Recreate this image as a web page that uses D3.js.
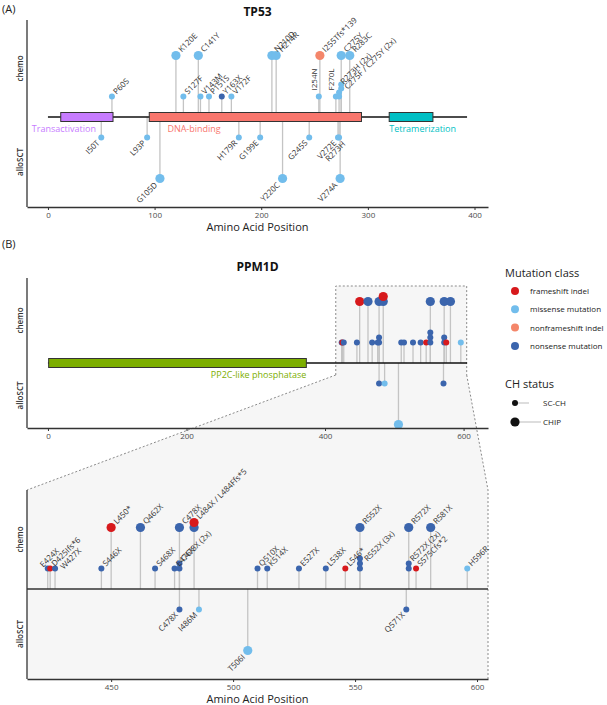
<!DOCTYPE html>
<html>
<head>
<meta charset="utf-8">
<script src="https://cdn.jsdelivr.net/npm/d3@7"></script>
<style>
  body { margin: 0; background: #fff; font-family: "Open Sans", sans-serif; }
</style>
</head>
<body>
<svg id="chart" width="607" height="705"></svg>
<script>
// ---- data ----
const classKeys = ['fs', 'mis', 'nfs', 'non'];
const classNames = ['frameshift indel', 'missense mutation', 'nonframeshift indel', 'nonsense mutation'];
const classColors = ['#d7191c', '#72bdec', '#f4866a', '#3b65ad'];
const chStatus = ['SC-CH', 'CHIP'];

const tp53Length = 393;
const tp53Domains = [
  { name: 'Transactivation', start: 12, end: 61, color: '#c77cff' },
  { name: 'DNA-binding', start: 95, end: 294, color: '#f8766d' },
  { name: 'Tetramerization', start: 320, end: 361, color: '#00bfc4' }
];
const tp53Ticks = [0, 100, 200, 300, 400];

// pos, label, CH status, classes stacked bottom-up, stack offset
const tp53Chemo = [
  { pos: 60, label: 'P60S', ch: 'SC-CH', cls: ['mis'] },
  { pos: 120, label: 'K120E', ch: 'CHIP', cls: ['mis'] },
  { pos: 127, label: 'S127F', ch: 'SC-CH', cls: ['mis'] },
  { pos: 141, label: 'C141Y', ch: 'CHIP', cls: ['mis'] },
  { pos: 143, label: 'V143M', ch: 'SC-CH', cls: ['mis'] },
  { pos: 151, label: 'P151S', ch: 'SC-CH', cls: ['mis'] },
  { pos: 163, label: 'Y163X', ch: 'SC-CH', cls: ['non'] },
  { pos: 172, label: 'V172F', ch: 'SC-CH', cls: ['mis'] },
  { pos: 210, label: 'N210D', ch: 'CHIP', cls: ['mis'] },
  { pos: 214, label: 'H214R', ch: 'CHIP', cls: ['mis'] },
  { pos: 254, label: 'I254N', ch: 'SC-CH', cls: ['mis'] },
  { pos: 255, label: 'I255Tfs*139', ch: 'CHIP', cls: ['nfs'] },
  { pos: 270, label: 'F270L', ch: 'SC-CH', cls: ['mis'] },
  { pos: 273, label: 'R273H (2x)', ch: 'SC-CH', cls: ['mis', 'mis'] },
  { pos: 275, label: 'C275F / C275Y (2x)', ch: 'SC-CH', cls: ['mis', 'mis'], base: 2 },
  { pos: 275, label: 'C275Y', ch: 'CHIP', cls: ['mis'] },
  { pos: 283, label: 'R283C', ch: 'CHIP', cls: ['mis'] }
];
const tp53Allo = [
  { pos: 50, label: 'I50T', ch: 'SC-CH', cls: ['mis'] },
  { pos: 93, label: 'L93P', ch: 'SC-CH', cls: ['mis'] },
  { pos: 105, label: 'G105D', ch: 'CHIP', cls: ['mis'] },
  { pos: 179, label: 'H179R', ch: 'SC-CH', cls: ['mis'] },
  { pos: 199, label: 'G199E', ch: 'SC-CH', cls: ['mis'] },
  { pos: 220, label: 'Y220C', ch: 'CHIP', cls: ['mis'] },
  { pos: 245, label: 'G245S', ch: 'SC-CH', cls: ['mis'] },
  { pos: 272, label: 'V272E', ch: 'SC-CH', cls: ['mis'] },
  { pos: 273, label: 'R273H', ch: 'SC-CH', cls: ['mis'] },
  { pos: 274, label: 'V274A', ch: 'CHIP', cls: ['mis'] }
];

const ppm1dLength = 605;
const ppm1dDomains = [
  { name: 'PP2C-like phosphatase', start: 1, end: 373, color: '#7cae00' }
];
const ppm1dTicks = [0, 200, 400, 600];
const zoomRange = [415.5, 604.5];
const zoomTicks = [450, 500, 550, 600];

const ppm1dChemo = [
  { pos: 424, label: 'E424X', ch: 'SC-CH', cls: ['non'] },
  { pos: 425, label: 'D425Ifs*6', ch: 'SC-CH', cls: ['fs'] },
  { pos: 427, label: 'W427X', ch: 'SC-CH', cls: ['non'] },
  { pos: 446, label: 'S446X', ch: 'SC-CH', cls: ['non'] },
  { pos: 450, label: 'L450*', ch: 'CHIP', cls: ['fs'] },
  { pos: 462, label: 'Q462X', ch: 'CHIP', cls: ['non'] },
  { pos: 468, label: 'S468X', ch: 'SC-CH', cls: ['non'] },
  { pos: 476, label: 'E476X', ch: 'SC-CH', cls: ['non'] },
  { pos: 478, label: 'C478X (2x)', ch: 'SC-CH', cls: ['non', 'non'] },
  { pos: 478, label: 'C478X', ch: 'CHIP', cls: ['non'] },
  { pos: 484, label: 'L484X / L484Ffs*5', ch: 'CHIP', cls: ['non', 'fs'] },
  { pos: 510, label: 'Q510X', ch: 'SC-CH', cls: ['non'] },
  { pos: 514, label: 'K514X', ch: 'SC-CH', cls: ['non'] },
  { pos: 527, label: 'E527X', ch: 'SC-CH', cls: ['non'] },
  { pos: 538, label: 'L538X', ch: 'SC-CH', cls: ['non'] },
  { pos: 546, label: 'L546*', ch: 'SC-CH', cls: ['fs'] },
  { pos: 552, label: 'R552X (3x)', ch: 'SC-CH', cls: ['non', 'non', 'non'] },
  { pos: 552, label: 'R552X', ch: 'CHIP', cls: ['non'] },
  { pos: 572, label: 'R572X (2x)', ch: 'SC-CH', cls: ['non', 'non'] },
  { pos: 572, label: 'R572X', ch: 'CHIP', cls: ['non'] },
  { pos: 575, label: 'S575Cfs*2', ch: 'SC-CH', cls: ['fs'] },
  { pos: 581, label: 'R581X', ch: 'CHIP', cls: ['non'] },
  { pos: 596, label: 'H596R', ch: 'SC-CH', cls: ['mis'] }
];
const ppm1dAllo = [
  { pos: 478, label: 'C478X', ch: 'SC-CH', cls: ['non'] },
  { pos: 486, label: 'I486M', ch: 'SC-CH', cls: ['mis'] },
  { pos: 506, label: 'T506I', ch: 'CHIP', cls: ['mis'] },
  { pos: 571, label: 'Q571X', ch: 'SC-CH', cls: ['non'] }
];

// ---- layout ----
const svg = d3.select('#chart');
const left = 27, right = 488;
const color = d3.scaleOrdinal().domain(classKeys).range(classColors);
const radius = d3.scaleOrdinal().domain(chStatus).range([3, 4.6]);
const chLevel = d3.scaleOrdinal().domain(chStatus).range([1, 3]);

// label tweaks where the reference labels were pushed apart
const labelNudge = {
  'chemo:E424X': [-9, 1], 'chemo:W427X': [4, 3], 'alloSCT:R273H': [8, 1],
  'chemo:R552X (3x)': [3, 5], 'chemo:C275F / C275Y (2x)': [2, 7], 'chemo:R273H (2x)': [0, -6]
};
const verticalLabels = ['I254N', 'F270L'];

function drawPanel(p) {
  const g = svg.append('g');
  const x = p.x;
  const y = d3.scaleLinear().domain([0, 1]).range([p.backbone, p.backbone - 20.5]);

  const stems = g.append('g'), prot = g.append('g'), dots = g.append('g'), labs = g.append('g');

  // axes
  g.append('line').attr('x1', left).attr('x2', left).attr('y1', p.top).attr('y2', p.bottom)
    .attr('stroke', '#333').attr('stroke-width', 1.3);
  const ax = g.append('g').attr('transform', `translate(0,${p.bottom})`)
    .call(d3.axisBottom(x).tickValues(p.ticks).tickSize(3).tickSizeOuter(0).tickPadding(2));
  ax.select('.domain').attr('stroke', '#333').attr('stroke-width', 1.3);
  ax.selectAll('.tick line').attr('stroke', '#333');
  ax.selectAll('.tick text').attr('fill', '#4d4d4d').style('font-size', '8px').style('font-family', 'Open Sans');

  // row labels
  [['chemo', (p.top + p.backbone) / 2], ['alloSCT', (p.backbone + p.bottom) / 2]].forEach(([t, cy]) => {
    g.append('text').attr('transform', `translate(23,${cy}) rotate(-90)`)
      .attr('text-anchor', 'middle').style('font-size', '8px').style('font-weight', 600)
      .attr('fill', '#333').text(t);
  });

  // protein backbone and domains
  if (p.length) {
    prot.append('line').attr('x1', x(0)).attr('x2', x(p.length)).attr('y1', p.backbone).attr('y2', p.backbone)
      .attr('stroke', '#111').attr('stroke-width', 1.5);
  } else {
    prot.append('line').attr('x1', left).attr('x2', right).attr('y1', p.backbone).attr('y2', p.backbone)
      .attr('stroke', '#333').attr('stroke-width', 1.5);
  }
  (p.domains || []).forEach(d => {
    prot.append('rect').attr('x', x(d.start)).attr('width', x(d.end) - x(d.start))
      .attr('y', p.backbone - 4.5).attr('height', 9)
      .attr('fill', d.color).attr('stroke', '#333').attr('stroke-width', 1);
    const lp = p.domainLabel[d.name];
    prot.append('text').attr('x', x(lp[0])).attr('y', p.backbone + 15)
      .attr('text-anchor', lp[1]).attr('fill', d.color).style('font-size', '9px').text(d.name);
  });

  // mutations
  [['chemo', p.chemo, 1], ['alloSCT', p.allo, -1]].forEach(([side, muts, sign]) => {
    muts.forEach(m => {
      const r = radius(m.ch);
      const pts = m.cls.map((c, i) => ({ c, y: y(sign * (chLevel(m.ch) + ((m.base || 0) + i) * p.step)) }));
      const px = x(m.pos);
      const topY = pts[pts.length - 1].y;
      stems.append('line').attr('x1', px).attr('x2', px).attr('y1', p.backbone).attr('y2', topY)
        .attr('stroke', '#c4c4c4').attr('stroke-width', 1.3);
      pts.forEach(q => {
        dots.append('circle').attr('cx', px).attr('cy', q.y).attr('r', r).attr('fill', color(q.c));
      });
      if (!p.labels) return;
      const nudge = labelNudge[side + ':' + m.label] || [0, 0];
      const t = labs.append('text').style('font-size', '8px').attr('fill', '#333').text(m.label);
      if (verticalLabels.includes(m.label)) {
        t.attr('text-anchor', 'start')
          .attr('transform', `translate(${px - 2 + nudge[0]},${topY - r - 3 + nudge[1]}) rotate(-90)`);
      } else if (sign > 0) {
        const d = r + 1.5, c = 2;
        const sx = px + 0.707 * (d + c), sy = topY + 0.707 * (c - d);
        t.attr('text-anchor', 'start')
          .attr('transform', `translate(${sx + nudge[0]},${sy + nudge[1]}) rotate(-45)`);
      } else {
        const d = r + 2, c = 3.5;
        const ex = px + 0.707 * (c - d), ey = topY + 0.707 * (c + d);
        t.attr('text-anchor', 'end')
          .attr('transform', `translate(${ex + nudge[0]},${ey + nudge[1]}) rotate(-45)`);
      }
    });
  });

  if (p.axisTitle) {
    g.append('text').attr('x', (left + right) / 2).attr('y', p.bottom + 24).attr('text-anchor', 'middle')
      .attr('fill', '#222').style('font-size', '11px').text('Amino Acid Position');
  }
  if (p.title) {
    g.append('text').attr('x', (left + right) / 2).attr('y', p.titleY).attr('text-anchor', 'middle')
      .attr('fill', '#111').style('font-size', '12px').style('font-weight', 700).text(p.title);
  }
  return g;
}

// ---- panel A ----
svg.append('text').attr('x', 2).attr('y', 13).style('font-size', '11px').attr('fill', '#222').text('(A)');
const xTp53 = d3.scaleLinear().domain([-tp53Length * 0.05, tp53Length * 1.05]).range([left, right]);
drawPanel({
  x: xTp53, top: 20, bottom: 207, backbone: 117, step: 0.195, ticks: tp53Ticks,
  length: tp53Length, domains: tp53Domains, chemo: tp53Chemo, allo: tp53Allo, labels: true,
  domainLabel: { 'Transactivation': [15, 'middle'], 'DNA-binding': [112, 'start'], 'Tetramerization': [320, 'start'] },
  axisTitle: true, title: 'TP53', titleY: 16
});

// ---- panel B ----
svg.append('text').attr('x', 2).attr('y', 248).style('font-size', '11px').attr('fill', '#222').text('(B)');
const xPpm = d3.scaleLinear().domain([-ppm1dLength * 0.05, ppm1dLength * 1.05]).range([left, right]);
const xZoom = d3.scaleLinear().domain(zoomRange).range([left, right]);

// zoom window + connector
const zx0 = xPpm(zoomRange[0]), zx1 = xPpm(zoomRange[1]);
const rTop = 286, rBot = 375, zTop = 490, zBot = 679;
svg.append('path')
  .attr('d', `M${zx0},${rTop}H${zx1}V${rBot}L${right},${zTop}V${zBot}H${left}V${zTop}L${zx0},${rBot}Z`)
  .attr('fill', '#f6f6f6');
const dash = g => g.attr('fill', 'none').attr('stroke', '#8a8a8a').attr('stroke-width', 1).attr('stroke-dasharray', '2,2');
svg.append('path').attr('d', `M${zx0},${rBot}V${rTop}H${zx1}V${rBot}`).call(dash);
svg.append('path').attr('d', `M${zx0},${rBot}L${left},${zTop}`).call(dash);
svg.append('path').attr('d', `M${zx1},${rBot}L${right},${zTop}V${zBot}`).call(dash);

drawPanel({
  x: xPpm, top: 278, bottom: 428, backbone: 363, step: 0.244, ticks: ppm1dTicks,
  length: ppm1dLength, domains: ppm1dDomains, chemo: ppm1dChemo, allo: ppm1dAllo, labels: false,
  domainLabel: { 'PP2C-like phosphatase': [373, 'end'] },
  title: 'PPM1D', titleY: 271
});
drawPanel({
  x: xZoom, top: zTop, bottom: zBot, backbone: 589, step: 0.244, ticks: zoomTicks,
  chemo: ppm1dChemo, allo: ppm1dAllo, labels: true, axisTitle: true
});

// ---- legend ----
const lg = svg.append('g');
lg.append('text').attr('x', 505).attr('y', 277).style('font-size', '11px').attr('fill', '#222').text('Mutation class');
classNames.forEach((n, i) => {
  const cy = 291 + i * 18.3;
  lg.append('circle').attr('cx', 515).attr('cy', cy).attr('r', 4).attr('fill', classColors[i]);
  lg.append('text').attr('x', 530).attr('y', cy + 3).style('font-size', '8px').attr('fill', '#222').text(n);
});
lg.append('text').attr('x', 505).attr('y', 388).style('font-size', '11px').attr('fill', '#222').text('CH status');
chStatus.forEach((n, i) => {
  const cy = 403 + i * 19;
  lg.append('line').attr('x1', 515).attr('x2', i ? 541 : 529).attr('y1', cy).attr('y2', cy)
    .attr('stroke', '#bbb').attr('stroke-width', 1);
  lg.append('circle').attr('cx', 515).attr('cy', cy).attr('r', radius(n)).attr('fill', '#111');
  lg.append('text').attr('x', 543).attr('y', cy + 3).style('font-size', '8px').attr('fill', '#222').text(n);
});
</script>
</body>
</html>
